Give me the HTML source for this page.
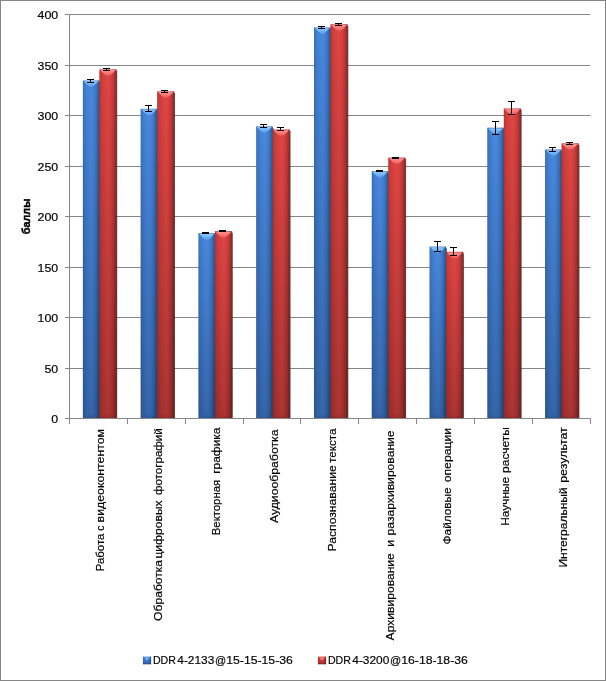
<!DOCTYPE html>
<html lang="ru"><head><meta charset="utf-8"><title>chart</title>
<style>html,body{margin:0;padding:0;background:#fff}svg{display:block}text{font-family:"Liberation Sans",Arial,sans-serif;fill:#000;stroke:#000;stroke-width:0.18px}</style></head>
<body>
<svg width="606" height="681" viewBox="0 0 606 681">
<defs>
<linearGradient id="gb" x1="0" y1="0" x2="0" y2="1" gradientUnits="objectBoundingBox"><stop offset="0" stop-color="#4485dc"/><stop offset="1" stop-color="#3162a7"/></linearGradient>
<linearGradient id="gr" x1="0" y1="0" x2="0" y2="1"><stop offset="0" stop-color="#dd413f"/><stop offset="1" stop-color="#a8302e"/></linearGradient>
<linearGradient id="gh" x1="0" y1="0" x2="1" y2="0"><stop offset="0" stop-color="#000" stop-opacity="0.20"/><stop offset="0.07" stop-color="#000" stop-opacity="0.11"/><stop offset="0.22" stop-color="#000" stop-opacity="0.03"/><stop offset="0.5" stop-color="#fff" stop-opacity="0.03"/><stop offset="0.72" stop-color="#000" stop-opacity="0.05"/><stop offset="0.86" stop-color="#000" stop-opacity="0.17"/><stop offset="0.93" stop-color="#000" stop-opacity="0.30"/><stop offset="1" stop-color="#000" stop-opacity="0.36"/></linearGradient>
<linearGradient id="tb" x1="0" y1="0" x2="0" y2="1"><stop offset="0" stop-color="#88caff"/><stop offset="1" stop-color="#589aea"/></linearGradient>
<linearGradient id="tr" x1="0" y1="0" x2="0" y2="1"><stop offset="0" stop-color="#ff9290"/><stop offset="1" stop-color="#ec5c5a"/></linearGradient>
<linearGradient id="mb" x1="0" y1="0" x2="0" y2="1"><stop offset="0" stop-color="#4a8ce6"/><stop offset="1" stop-color="#2f63ad"/></linearGradient>
<linearGradient id="mr" x1="0" y1="0" x2="0" y2="1"><stop offset="0" stop-color="#e44846"/><stop offset="1" stop-color="#a62e2c"/></linearGradient>
<filter id="sh2" x="-30%" y="-30%" width="160%" height="160%"><feGaussianBlur stdDeviation="0.5"/></filter>
<filter id="sh" x="-50%" y="-5%" width="200%" height="110%"><feGaussianBlur stdDeviation="0.75"/></filter>
</defs>
<rect x="0" y="0" width="606" height="681" fill="#fff"/>
<rect x="0.5" y="0.5" width="605" height="680" fill="none" stroke="#868686" stroke-width="1"/>

<g stroke="#868686" stroke-width="1" fill="none">
<line x1="65" y1="418.5" x2="590.5" y2="418.5"/>
<line x1="65" y1="368.5" x2="590.5" y2="368.5"/>
<line x1="65" y1="317.5" x2="590.5" y2="317.5"/>
<line x1="65" y1="267.5" x2="590.5" y2="267.5"/>
<line x1="65" y1="216.5" x2="590.5" y2="216.5"/>
<line x1="65" y1="166.5" x2="590.5" y2="166.5"/>
<line x1="65" y1="115.5" x2="590.5" y2="115.5"/>
<line x1="65" y1="65.5" x2="590.5" y2="65.5"/>
<line x1="65" y1="14.5" x2="590.5" y2="14.5"/>
<line x1="69.5" y1="14.5" x2="69.5" y2="424"/>
<line x1="127.5" y1="418.5" x2="127.5" y2="424"/>
<line x1="185.5" y1="418.5" x2="185.5" y2="424"/>
<line x1="243.5" y1="418.5" x2="243.5" y2="424"/>
<line x1="300.5" y1="418.5" x2="300.5" y2="424"/>
<line x1="358.5" y1="418.5" x2="358.5" y2="424"/>
<line x1="416.5" y1="418.5" x2="416.5" y2="424"/>
<line x1="474.5" y1="418.5" x2="474.5" y2="424"/>
<line x1="532.5" y1="418.5" x2="532.5" y2="424"/>
<line x1="590.5" y1="418.5" x2="590.5" y2="424"/>
</g>
<text x="58.2" y="422.9" font-size="11.6" text-anchor="end" textLength="6.9" lengthAdjust="spacingAndGlyphs">0</text>
<text x="58.2" y="372.9" font-size="11.6" text-anchor="end" textLength="13.7" lengthAdjust="spacingAndGlyphs">50</text>
<text x="58.2" y="321.9" font-size="11.6" text-anchor="end" textLength="20.6" lengthAdjust="spacingAndGlyphs">100</text>
<text x="58.2" y="271.9" font-size="11.6" text-anchor="end" textLength="20.6" lengthAdjust="spacingAndGlyphs">150</text>
<text x="58.2" y="220.9" font-size="11.6" text-anchor="end" textLength="20.6" lengthAdjust="spacingAndGlyphs">200</text>
<text x="58.2" y="170.9" font-size="11.6" text-anchor="end" textLength="20.6" lengthAdjust="spacingAndGlyphs">250</text>
<text x="58.2" y="119.9" font-size="11.6" text-anchor="end" textLength="20.6" lengthAdjust="spacingAndGlyphs">300</text>
<text x="58.2" y="69.9" font-size="11.6" text-anchor="end" textLength="20.6" lengthAdjust="spacingAndGlyphs">350</text>
<text x="58.2" y="18.9" font-size="11.6" text-anchor="end" textLength="20.6" lengthAdjust="spacingAndGlyphs">400</text>
<rect x="83.58" y="82.00" width="16.51" height="336.00" fill="#000" opacity="0.7" filter="url(#sh)"/>
<rect x="100.09" y="70.90" width="17.11" height="347.10" fill="#000" opacity="0.7" filter="url(#sh)"/>
<rect x="82.88" y="80.50" width="16.51" height="337.50" fill="url(#gb)"/>
<rect x="82.88" y="80.50" width="16.51" height="337.50" fill="url(#gh)"/>
<path d="M83.78,81.20 L98.49,81.20 L95.79,84.10 Q91.13,89.70 86.48,84.10 Z" fill="url(#tb)"/>
<polygon points="83.88,418.00 98.39,418.00 91.13,414.00" fill="#000" opacity="0.07"/>
<rect x="99.39" y="69.40" width="17.11" height="348.60" fill="url(#gr)"/>
<rect x="99.39" y="69.40" width="17.11" height="348.60" fill="url(#gh)"/>
<path d="M100.29,70.10 L115.60,70.10 L112.90,73.00 Q107.94,78.60 102.99,73.00 Z" fill="url(#tr)"/>
<polygon points="100.39,418.00 114.90,418.00 107.64,414.00" fill="#000" opacity="0.07"/>
<g stroke="#000" stroke-width="1" fill="none"><line x1="90.50" y1="79.50" x2="90.50" y2="82.50"/><line x1="87.00" y1="79.50" x2="94.00" y2="79.50"/><line x1="87.00" y1="82.50" x2="94.00" y2="82.50"/></g>
<g stroke="#000" stroke-width="1" fill="none"><line x1="106.50" y1="68.50" x2="106.50" y2="70.50"/><line x1="103.00" y1="68.50" x2="110.00" y2="68.50"/><line x1="103.00" y1="70.50" x2="110.00" y2="70.50"/></g>
<rect x="141.36" y="110.30" width="16.51" height="307.70" fill="#000" opacity="0.7" filter="url(#sh)"/>
<rect x="157.87" y="92.90" width="17.11" height="325.10" fill="#000" opacity="0.7" filter="url(#sh)"/>
<rect x="140.66" y="108.80" width="16.51" height="309.20" fill="url(#gb)"/>
<rect x="140.66" y="108.80" width="16.51" height="309.20" fill="url(#gh)"/>
<path d="M141.56,109.50 L156.27,109.50 L153.57,112.40 Q148.91,118.00 144.26,112.40 Z" fill="url(#tb)"/>
<polygon points="141.66,418.00 156.17,418.00 148.91,414.00" fill="#000" opacity="0.07"/>
<rect x="157.17" y="91.40" width="17.11" height="326.60" fill="url(#gr)"/>
<rect x="157.17" y="91.40" width="17.11" height="326.60" fill="url(#gh)"/>
<path d="M158.07,92.10 L173.37,92.10 L170.67,95.00 Q165.72,100.60 160.77,95.00 Z" fill="url(#tr)"/>
<polygon points="158.17,418.00 172.67,418.00 165.42,414.00" fill="#000" opacity="0.07"/>
<g stroke="#000" stroke-width="1" fill="none"><line x1="148.50" y1="105.50" x2="148.50" y2="111.50"/><line x1="145.00" y1="105.50" x2="152.00" y2="105.50"/><line x1="145.00" y1="111.50" x2="152.00" y2="111.50"/></g>
<g stroke="#000" stroke-width="1" fill="none"><line x1="164.50" y1="90.50" x2="164.50" y2="92.50"/><line x1="161.00" y1="90.50" x2="168.00" y2="90.50"/><line x1="161.00" y1="92.50" x2="168.00" y2="92.50"/></g>
<rect x="199.14" y="234.80" width="16.51" height="183.20" fill="#000" opacity="0.7" filter="url(#sh)"/>
<rect x="215.64" y="232.70" width="17.11" height="185.30" fill="#000" opacity="0.7" filter="url(#sh)"/>
<rect x="198.44" y="233.30" width="16.51" height="184.70" fill="url(#gb)"/>
<rect x="198.44" y="233.30" width="16.51" height="184.70" fill="url(#gh)"/>
<path d="M199.34,234.00 L214.04,234.00 L211.34,236.90 Q206.69,242.50 202.04,236.90 Z" fill="url(#tb)"/>
<polygon points="199.44,418.00 213.94,418.00 206.69,414.00" fill="#000" opacity="0.07"/>
<rect x="214.94" y="231.20" width="17.11" height="186.80" fill="url(#gr)"/>
<rect x="214.94" y="231.20" width="17.11" height="186.80" fill="url(#gh)"/>
<path d="M215.84,231.90 L231.15,231.90 L228.45,234.80 Q223.50,240.40 218.54,234.80 Z" fill="url(#tr)"/>
<polygon points="215.94,418.00 230.45,418.00 223.20,414.00" fill="#000" opacity="0.07"/>
<g stroke="#000" stroke-width="1" fill="none"><line x1="205.50" y1="232.50" x2="205.50" y2="233.50"/><line x1="202.00" y1="232.50" x2="209.00" y2="232.50"/><line x1="202.00" y1="233.50" x2="209.00" y2="233.50"/></g>
<g stroke="#000" stroke-width="1" fill="none"><line x1="222.50" y1="230.50" x2="222.50" y2="231.50"/><line x1="219.00" y1="230.50" x2="226.00" y2="230.50"/><line x1="219.00" y1="231.50" x2="226.00" y2="231.50"/></g>
<rect x="256.91" y="127.90" width="16.51" height="290.10" fill="#000" opacity="0.7" filter="url(#sh)"/>
<rect x="273.42" y="131.00" width="17.11" height="287.00" fill="#000" opacity="0.7" filter="url(#sh)"/>
<rect x="256.21" y="126.40" width="16.51" height="291.60" fill="url(#gb)"/>
<rect x="256.21" y="126.40" width="16.51" height="291.60" fill="url(#gh)"/>
<path d="M257.11,127.10 L271.82,127.10 L269.12,130.00 Q264.47,135.60 259.81,130.00 Z" fill="url(#tb)"/>
<polygon points="257.21,418.00 271.72,418.00 264.47,414.00" fill="#000" opacity="0.07"/>
<rect x="272.72" y="129.50" width="17.11" height="288.50" fill="url(#gr)"/>
<rect x="272.72" y="129.50" width="17.11" height="288.50" fill="url(#gh)"/>
<path d="M273.62,130.20 L288.93,130.20 L286.23,133.10 Q281.28,138.70 276.32,133.10 Z" fill="url(#tr)"/>
<polygon points="273.72,418.00 288.23,418.00 280.98,414.00" fill="#000" opacity="0.07"/>
<g stroke="#000" stroke-width="1" fill="none"><line x1="263.50" y1="124.50" x2="263.50" y2="127.50"/><line x1="260.00" y1="124.50" x2="267.00" y2="124.50"/><line x1="260.00" y1="127.50" x2="267.00" y2="127.50"/></g>
<g stroke="#000" stroke-width="1" fill="none"><line x1="280.50" y1="127.50" x2="280.50" y2="130.50"/><line x1="277.00" y1="127.50" x2="284.00" y2="127.50"/><line x1="277.00" y1="130.50" x2="284.00" y2="130.50"/></g>
<rect x="314.69" y="29.00" width="16.51" height="389.00" fill="#000" opacity="0.7" filter="url(#sh)"/>
<rect x="331.20" y="25.80" width="17.11" height="392.20" fill="#000" opacity="0.7" filter="url(#sh)"/>
<rect x="313.99" y="27.50" width="16.51" height="390.50" fill="url(#gb)"/>
<rect x="313.99" y="27.50" width="16.51" height="390.50" fill="url(#gh)"/>
<path d="M314.89,28.20 L329.60,28.20 L326.90,31.10 Q322.25,36.70 317.59,31.10 Z" fill="url(#tb)"/>
<polygon points="314.99,418.00 329.50,418.00 322.25,414.00" fill="#000" opacity="0.07"/>
<rect x="330.50" y="24.30" width="17.11" height="393.70" fill="url(#gr)"/>
<rect x="330.50" y="24.30" width="17.11" height="393.70" fill="url(#gh)"/>
<path d="M331.40,25.00 L346.71,25.00 L344.01,27.90 Q339.05,33.50 334.10,27.90 Z" fill="url(#tr)"/>
<polygon points="331.50,418.00 346.01,418.00 338.75,414.00" fill="#000" opacity="0.07"/>
<g stroke="#000" stroke-width="1" fill="none"><line x1="321.50" y1="26.50" x2="321.50" y2="28.50"/><line x1="318.00" y1="26.50" x2="325.00" y2="26.50"/><line x1="318.00" y1="28.50" x2="325.00" y2="28.50"/></g>
<g stroke="#000" stroke-width="1" fill="none"><line x1="338.50" y1="23.50" x2="338.50" y2="25.50"/><line x1="335.00" y1="23.50" x2="342.00" y2="23.50"/><line x1="335.00" y1="25.50" x2="342.00" y2="25.50"/></g>
<rect x="372.47" y="172.75" width="16.51" height="245.25" fill="#000" opacity="0.7" filter="url(#sh)"/>
<rect x="388.98" y="159.10" width="17.11" height="258.90" fill="#000" opacity="0.7" filter="url(#sh)"/>
<rect x="371.77" y="171.25" width="16.51" height="246.75" fill="url(#gb)"/>
<rect x="371.77" y="171.25" width="16.51" height="246.75" fill="url(#gh)"/>
<path d="M372.67,171.95 L387.38,171.95 L384.68,174.85 Q380.02,180.45 375.37,174.85 Z" fill="url(#tb)"/>
<polygon points="372.77,418.00 387.28,418.00 380.02,414.00" fill="#000" opacity="0.07"/>
<rect x="388.28" y="157.60" width="17.11" height="260.40" fill="url(#gr)"/>
<rect x="388.28" y="157.60" width="17.11" height="260.40" fill="url(#gh)"/>
<path d="M389.18,158.30 L404.49,158.30 L401.79,161.20 Q396.83,166.80 391.88,161.20 Z" fill="url(#tr)"/>
<polygon points="389.28,418.00 403.79,418.00 396.53,414.00" fill="#000" opacity="0.07"/>
<g stroke="#000" stroke-width="1" fill="none"><line x1="379.50" y1="170.50" x2="379.50" y2="171.50"/><line x1="376.00" y1="170.50" x2="383.00" y2="170.50"/><line x1="376.00" y1="171.50" x2="383.00" y2="171.50"/></g>
<g stroke="#000" stroke-width="1" fill="none"><line x1="395.50" y1="157.50" x2="395.50" y2="158.50"/><line x1="392.00" y1="157.50" x2="399.00" y2="157.50"/><line x1="392.00" y1="158.50" x2="399.00" y2="158.50"/></g>
<rect x="430.25" y="248.10" width="16.51" height="169.90" fill="#000" opacity="0.7" filter="url(#sh)"/>
<rect x="446.76" y="253.30" width="17.11" height="164.70" fill="#000" opacity="0.7" filter="url(#sh)"/>
<rect x="429.55" y="246.60" width="16.51" height="171.40" fill="url(#gb)"/>
<rect x="429.55" y="246.60" width="16.51" height="171.40" fill="url(#gh)"/>
<path d="M430.45,247.30 L445.16,247.30 L442.46,250.20 Q437.80,255.80 433.15,250.20 Z" fill="url(#tb)"/>
<polygon points="430.55,418.00 445.06,418.00 437.80,414.00" fill="#000" opacity="0.07"/>
<rect x="446.06" y="251.80" width="17.11" height="166.20" fill="url(#gr)"/>
<rect x="446.06" y="251.80" width="17.11" height="166.20" fill="url(#gh)"/>
<path d="M446.96,252.50 L462.26,252.50 L459.56,255.40 Q454.61,261.00 449.66,255.40 Z" fill="url(#tr)"/>
<polygon points="447.06,418.00 461.56,418.00 454.31,414.00" fill="#000" opacity="0.07"/>
<g stroke="#000" stroke-width="1" fill="none"><line x1="437.50" y1="241.50" x2="437.50" y2="251.50"/><line x1="434.00" y1="241.50" x2="441.00" y2="241.50"/><line x1="434.00" y1="251.50" x2="441.00" y2="251.50"/></g>
<g stroke="#000" stroke-width="1" fill="none"><line x1="453.50" y1="247.50" x2="453.50" y2="255.50"/><line x1="450.00" y1="247.50" x2="457.00" y2="247.50"/><line x1="450.00" y1="255.50" x2="457.00" y2="255.50"/></g>
<rect x="488.03" y="129.20" width="16.51" height="288.80" fill="#000" opacity="0.7" filter="url(#sh)"/>
<rect x="504.53" y="110.00" width="17.11" height="308.00" fill="#000" opacity="0.7" filter="url(#sh)"/>
<rect x="487.33" y="127.70" width="16.51" height="290.30" fill="url(#gb)"/>
<rect x="487.33" y="127.70" width="16.51" height="290.30" fill="url(#gh)"/>
<path d="M488.23,128.40 L502.93,128.40 L500.23,131.30 Q495.58,136.90 490.93,131.30 Z" fill="url(#tb)"/>
<polygon points="488.33,418.00 502.83,418.00 495.58,414.00" fill="#000" opacity="0.07"/>
<rect x="503.83" y="108.50" width="17.11" height="309.50" fill="url(#gr)"/>
<rect x="503.83" y="108.50" width="17.11" height="309.50" fill="url(#gh)"/>
<path d="M504.73,109.20 L520.04,109.20 L517.34,112.10 Q512.39,117.70 507.43,112.10 Z" fill="url(#tr)"/>
<polygon points="504.83,418.00 519.34,418.00 512.09,414.00" fill="#000" opacity="0.07"/>
<g stroke="#000" stroke-width="1" fill="none"><line x1="495.50" y1="121.50" x2="495.50" y2="134.50"/><line x1="492.00" y1="121.50" x2="499.00" y2="121.50"/><line x1="492.00" y1="134.50" x2="499.00" y2="134.50"/></g>
<g stroke="#000" stroke-width="1" fill="none"><line x1="511.50" y1="101.50" x2="511.50" y2="114.50"/><line x1="508.00" y1="101.50" x2="515.00" y2="101.50"/><line x1="508.00" y1="114.50" x2="515.00" y2="114.50"/></g>
<rect x="545.80" y="151.00" width="16.51" height="267.00" fill="#000" opacity="0.7" filter="url(#sh)"/>
<rect x="562.31" y="144.90" width="17.11" height="273.10" fill="#000" opacity="0.7" filter="url(#sh)"/>
<rect x="545.10" y="149.50" width="16.51" height="268.50" fill="url(#gb)"/>
<rect x="545.10" y="149.50" width="16.51" height="268.50" fill="url(#gh)"/>
<path d="M546.00,150.20 L560.71,150.20 L558.01,153.10 Q553.36,158.70 548.70,153.10 Z" fill="url(#tb)"/>
<polygon points="546.10,418.00 560.61,418.00 553.36,414.00" fill="#000" opacity="0.07"/>
<rect x="561.61" y="143.40" width="17.11" height="274.60" fill="url(#gr)"/>
<rect x="561.61" y="143.40" width="17.11" height="274.60" fill="url(#gh)"/>
<path d="M562.51,144.10 L577.82,144.10 L575.12,147.00 Q570.17,152.60 565.21,147.00 Z" fill="url(#tr)"/>
<polygon points="562.61,418.00 577.12,418.00 569.87,414.00" fill="#000" opacity="0.07"/>
<g stroke="#000" stroke-width="1" fill="none"><line x1="552.50" y1="147.50" x2="552.50" y2="151.50"/><line x1="549.00" y1="147.50" x2="556.00" y2="147.50"/><line x1="549.00" y1="151.50" x2="556.00" y2="151.50"/></g>
<g stroke="#000" stroke-width="1" fill="none"><line x1="569.50" y1="142.50" x2="569.50" y2="144.50"/><line x1="566.00" y1="142.50" x2="573.00" y2="142.50"/><line x1="566.00" y1="144.50" x2="573.00" y2="144.50"/></g>
<text transform="translate(104.0,0) rotate(-90)" y="0" font-size="11.6"><tspan x="-571.3" textLength="37.7" lengthAdjust="spacingAndGlyphs">Работа</tspan> <tspan x="-530.8" textLength="5.3" lengthAdjust="spacingAndGlyphs">с</tspan> <tspan x="-522.4" textLength="93.4" lengthAdjust="spacingAndGlyphs">видеоконтентом</tspan></text>
<text transform="translate(161.9,0) rotate(-90)" y="0" font-size="11.6"><tspan x="-620.9" textLength="61.0" lengthAdjust="spacingAndGlyphs">Обработка</tspan> <tspan x="-558.6" textLength="58.2" lengthAdjust="spacingAndGlyphs">цифровых</tspan> <tspan x="-495.1" textLength="66.9" lengthAdjust="spacingAndGlyphs">фотографий</tspan></text>
<text transform="translate(219.8,0) rotate(-90)" y="0" font-size="11.6"><tspan x="-535.2" textLength="55.3" lengthAdjust="spacingAndGlyphs">Векторная</tspan> <tspan x="-473.8" textLength="46.3" lengthAdjust="spacingAndGlyphs">графика</tspan></text>
<text transform="translate(277.7,0) rotate(-90)" y="0" font-size="11.6"><tspan x="-523.1" textLength="93.6" lengthAdjust="spacingAndGlyphs">Аудиообработка</tspan></text>
<text transform="translate(335.6,0) rotate(-90)" y="0" font-size="11.6"><tspan x="-551.5" textLength="86.2" lengthAdjust="spacingAndGlyphs">Распознавание</tspan> <tspan x="-462.9" textLength="34.3" lengthAdjust="spacingAndGlyphs">текста</tspan></text>
<text transform="translate(393.5,0) rotate(-90)" y="0" font-size="11.6"><tspan x="-640.4" textLength="87.2" lengthAdjust="spacingAndGlyphs">Архивирование</tspan> <tspan x="-546.7" textLength="6.8" lengthAdjust="spacingAndGlyphs">и</tspan> <tspan x="-535.4" textLength="105.0" lengthAdjust="spacingAndGlyphs">разархивирование</tspan></text>
<text transform="translate(451.4,0) rotate(-90)" y="0" font-size="11.6"><tspan x="-544.4" textLength="57.0" lengthAdjust="spacingAndGlyphs">Файловые</tspan> <tspan x="-482.3" textLength="54.4" lengthAdjust="spacingAndGlyphs">операции</tspan></text>
<text transform="translate(509.3,0) rotate(-90)" y="0" font-size="11.6"><tspan x="-525.7" textLength="48.7" lengthAdjust="spacingAndGlyphs">Научные</tspan> <tspan x="-472.9" textLength="45.7" lengthAdjust="spacingAndGlyphs">расчеты</tspan></text>
<text transform="translate(567.2,0) rotate(-90)" y="0" font-size="11.6"><tspan x="-567.6" textLength="80.2" lengthAdjust="spacingAndGlyphs">Интегральный</tspan> <tspan x="-482.8" textLength="55.6" lengthAdjust="spacingAndGlyphs">результат</tspan></text>
<text transform="translate(30.4,234.2) rotate(-90)" font-size="11.6" font-weight="bold" style="stroke-width:0.45px" textLength="35.6" lengthAdjust="spacingAndGlyphs">баллы</text>
<rect x="142.7" y="656.7" width="8.6" height="7.8" fill="#000" opacity="0.25" filter="url(#sh2)"/><rect x="143" y="656.7" width="8" height="7.4" fill="url(#mb)"/><rect x="143" y="656.7" width="8" height="7.4" fill="url(#gh)"/><polygon points="144.2,657.6 149.8,657.6 147,660.4" fill="#78b8fa"/><rect x="143" y="663.2" width="8" height="0.9" fill="#244f92" opacity="0.8"/>
<text y="663.9" font-size="11.6"><tspan x="152.9" textLength="23.0" lengthAdjust="spacingAndGlyphs">DDR</tspan><tspan x="177.3" textLength="37.0" lengthAdjust="spacingAndGlyphs">4-2133</tspan><tspan x="215.0" textLength="11.2" lengthAdjust="spacingAndGlyphs">@</tspan><tspan x="226.3" textLength="66.5" lengthAdjust="spacingAndGlyphs">15-15-15-36</tspan></text>
<rect x="317.7" y="656.7" width="8.6" height="7.8" fill="#000" opacity="0.25" filter="url(#sh2)"/><rect x="318" y="656.7" width="8" height="7.4" fill="url(#mr)"/><rect x="318" y="656.7" width="8" height="7.4" fill="url(#gh)"/><polygon points="319.2,657.6 324.8,657.6 322,660.4" fill="#fa8a88"/><rect x="318" y="663.2" width="8" height="0.9" fill="#8c2422" opacity="0.8"/>
<text y="663.9" font-size="11.6"><tspan x="327.9" textLength="23.0" lengthAdjust="spacingAndGlyphs">DDR</tspan><tspan x="352.3" textLength="37.0" lengthAdjust="spacingAndGlyphs">4-3200</tspan><tspan x="390.0" textLength="11.2" lengthAdjust="spacingAndGlyphs">@</tspan><tspan x="401.3" textLength="66.5" lengthAdjust="spacingAndGlyphs">16-18-18-36</tspan></text>
</svg>
</body></html>
